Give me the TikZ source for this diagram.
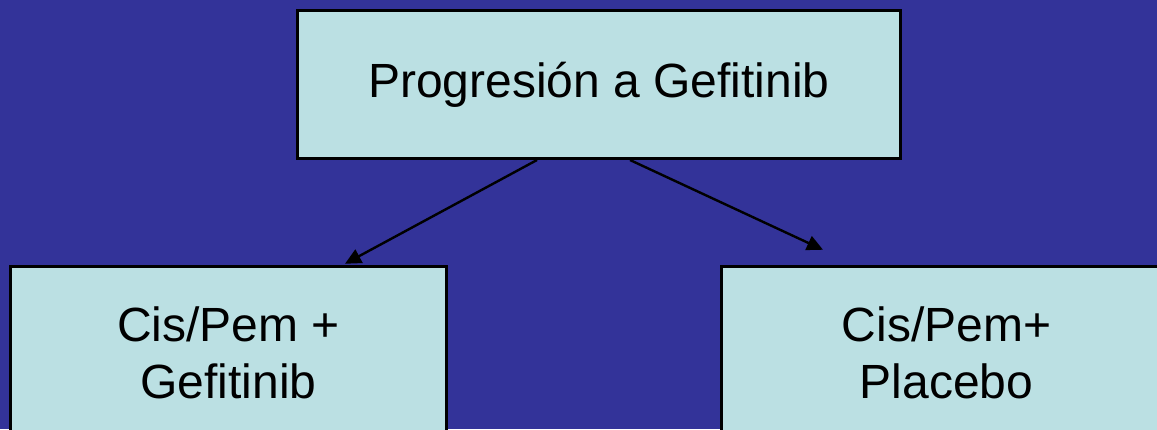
\documentclass[tikz,border=0pt]{standalone}
\usepackage{fontspec}
\setmainfont{Liberation Sans}
\usetikzlibrary{arrows.meta, positioning}
\definecolor{slideblue}{HTML}{333399}
\definecolor{boxcyan}{HTML}{BBE0E3}

\begin{document}
\begin{tikzpicture}[
    x=1pt, y=-1pt,
    box/.style={rectangle, draw=black, fill=boxcyan, line width=3pt,
                align=center, inner sep=0pt,
                font=\fontsize{48}{57.6}\selectfont},
    arrow/.style={-{Triangle[length=16pt, width=15pt]}, line width=2.4pt, black}
  ]
    \useasboundingbox (0,0) rectangle (1157,429);
    \clip (0,0) rectangle (1157,429);
    \fill[slideblue] (0,0) rectangle (1157,429);

    \node[box, minimum width=603pt, minimum height=148pt] (prog) at (599,84.5) {Progresión a Gefitinib};
    \node[box, minimum width=436pt, minimum height=173.5pt] (gef) at (228.5,353) {Cis/Pem +\\Gefitinib};
    \node[box, minimum width=450pt, minimum height=173.5pt] (plac) at (946.5,353) {Cis/Pem+\\Placebo};

    \draw[arrow] ([xshift=-62pt]prog.south) -- ([xshift=116.5pt, yshift=1pt]gef.north);
    \draw[arrow] ([xshift=31pt]prog.south) -- ([xshift=-123.5pt, yshift=15pt]plac.north);
  \end{tikzpicture}
\end{document}
